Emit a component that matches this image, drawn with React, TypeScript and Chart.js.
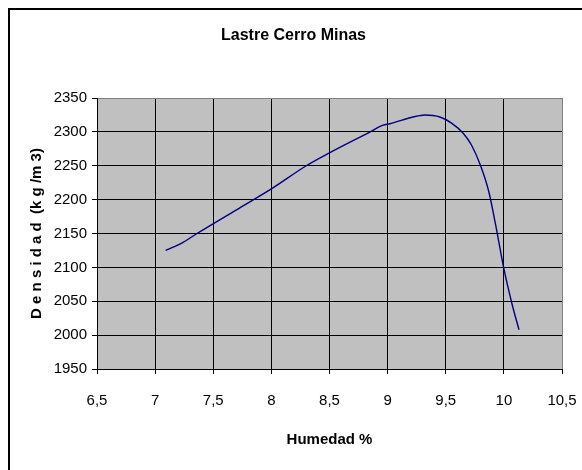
import { useEffect, useRef } from "react";
import { Chart, registerables } from "chart.js";

Chart.register(...registerables);

// Compaction curve: moisture content (%) vs dry density (kg/m3)
const humedad = [7.09, 7.24, 7.36, 7.7, 8.01, 8.3, 8.5, 8.85, 8.96, 9.02, 9.22, 9.32, 9.45, 9.55, 9.65, 9.72, 9.8, 9.87, 9.93, 10.0, 10.07, 10.13];
const densidad = [2125, 2137, 2150, 2185, 2217, 2250, 2269, 2300, 2310, 2312, 2322, 2325, 2322, 2313, 2298, 2281, 2250, 2212, 2162, 2098, 2046, 2008];

const xTickValues = [6.5, 7, 7.5, 8, 8.5, 9, 9.5, 10, 10.5];
const yTickValues = [1950, 2000, 2050, 2100, 2150, 2200, 2250, 2300, 2350];

const chartTitle = "Lastre Cerro Minas";
const xTitle = "Humedad %";
const yTitle = "D e n s i d a d  (k g /m 3)";

const FONT = "'Liberation Sans', Arial, sans-serif";
const CANVAS_W = 567;
const CANVAS_H = 452;

const plotBackground = {
  id: "plotBackground",
  beforeDraw(chart: any) {
    const { ctx, chartArea: a } = chart;
    ctx.save();
    ctx.fillStyle = "#C0C0C0";
    ctx.fillRect(a.left, a.top, a.right - a.left, a.bottom - a.top);
    ctx.restore();
  },
};

export default function App() {
  const canvasRef = useRef<HTMLCanvasElement | null>(null);

  useEffect(() => {
    const canvas = canvasRef.current;
    if (!canvas) return;

    const tickFont = { family: FONT, size: 15 };
    const titleFont = { family: FONT, size: 15, weight: "bold" as const };

    const chart = new Chart(canvas, {
      type: "line",
      data: {
        datasets: [
          {
            data: humedad.map((x, i) => ({ x, y: densidad[i] })),
            borderColor: "#000080",
            borderWidth: 1.4,
            pointRadius: 0,
            fill: false,
            cubicInterpolationMode: "monotone",
          },
        ],
      },
      options: {
        animation: false,
        responsive: false,
        devicePixelRatio: 1,
        layout: { padding: 0 },
        plugins: {
          legend: { display: false },
          tooltip: { enabled: false },
          title: {
            display: true,
            text: chartTitle,
            color: "#000",
            font: { family: FONT, size: 16, weight: "bold" },
            padding: { top: 16.4, bottom: 52.4 },
          },
        },
        scales: {
          x: {
            type: "linear",
            min: 6.5,
            max: 10.5,
            afterBuildTicks: (s: any) => {
              s.ticks = xTickValues.map((value) => ({ value }));
            },
            afterFit: (s: any) => {
              s.height = 93;
              // only the half-width of the end labels should reserve side room
              s.paddingLeft = 15;
              s.paddingRight = 15;
            },
            ticks: {
              color: "#000",
              font: tickFont,
              padding: 18,
              maxRotation: 0,
              autoSkip: false,
              callback: (v: any) => String(v).replace(".", ","),
            },
            grid: {
              color: (c: any) => (c.tick && c.tick.value === 10.5 ? "#808080" : "#000"),
              tickColor: "#000",
              tickLength: 5,
              lineWidth: 1,
            },
            border: { color: "#000", width: 1 },
            title: {
              display: true,
              text: xTitle,
              color: "#000",
              font: titleFont,
              padding: { top: 0, bottom: 13.4 },
            },
          },
          y: {
            type: "linear",
            min: 1950,
            max: 2350,
            afterBuildTicks: (s: any) => {
              s.ticks = yTickValues.map((value) => ({ value }));
            },
            afterFit: (s: any) => {
              s.width = 87;
            },
            ticks: {
              color: "#000",
              font: tickFont,
              padding: 5,
              autoSkip: false,
              callback: (v: any) => String(v),
            },
            grid: {
              color: (c: any) => (c.tick && c.tick.value === 2350 ? "#808080" : "#000"),
              tickColor: "#000",
              tickLength: 5,
              lineWidth: 1,
            },
            border: { color: "#000", width: 1 },
            title: {
              display: true,
              text: yTitle,
              color: "#000",
              font: titleFont,
              padding: { top: 17.5, bottom: 0 },
            },
          },
        },
      },
      plugins: [plotBackground],
    });

    return () => chart.destroy();
  }, []);

  return (
    <div
      style={{
        position: "fixed",
        left: 8,
        top: 8,
        width: 574,
        height: 462,
        boxSizing: "border-box",
        borderTop: "2px solid #000",
        borderLeft: "2px solid #000",
        overflow: "hidden",
        background: "#fff",
      }}
    >
      <canvas
        ref={canvasRef}
        width={CANVAS_W}
        height={CANVAS_H}
        style={{ display: "block", width: CANVAS_W, height: CANVAS_H }}
      />
    </div>
  );
}
